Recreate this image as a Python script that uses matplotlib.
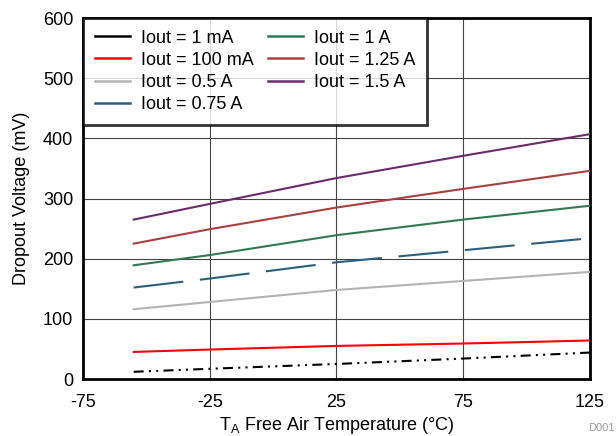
import matplotlib
matplotlib.use('Agg')
import matplotlib.pyplot as plt
from matplotlib.lines import Line2D

plt.rcParams['font.family'] = ['Liberation Sans', 'DejaVu Sans']
plt.rcParams['axes.unicode_minus'] = False

# Data
temps = [-55, -25, 25, 75, 125]
iout_1mA = [12, 17, 25, 34, 44]
iout_100mA = [45, 49, 55, 59, 64]
iout_05A = [116, 128, 148, 163, 178]
iout_075A = [152, 167, 194, 214, 234]
iout_1A = [189, 206, 239, 265, 288]
iout_125A = [225, 249, 285, 316, 346]
iout_15A = [265, 291, 334, 371, 407]

labels = ['Iout = 1 mA', 'Iout = 100 mA', 'Iout = 0.5 A', 'Iout = 0.75 A',
          'Iout = 1 A', 'Iout = 1.25 A', 'Iout = 1.5 A']
series = [iout_1mA, iout_100mA, iout_05A, iout_075A, iout_1A, iout_125A, iout_15A]
colors = ['#000000', '#ff0000', '#b3b3b3', '#2a5f7e', '#2f7a50', '#a8403d', '#6c2a6c']
dashes = [(4.8, 2.5, 1, 2.5, 1, 2.5), None, None, (24, 8), None, None, None]

fig = plt.figure(figsize=(6.16, 4.36), dpi=100)
ax = fig.add_axes([0.1347, 0.1307, 0.8231, 0.828])

for vals, c, d in zip(series, colors, dashes):
    line, = ax.plot(temps, vals, color=c, linewidth=1.5, zorder=3)
    if d is not None:
        line.set_dashes(d)

ax.set_xlim(-75, 125)
ax.set_ylim(0, 600)
ax.set_xticks([-75, -25, 25, 75, 125])
ax.set_yticks([0, 100, 200, 300, 400, 500, 600])
ax.tick_params(length=0, labelsize=13)
ax.tick_params(axis='x', pad=11)
ax.tick_params(axis='y', pad=7)
ax.grid(True, color='#444444', linewidth=0.8)
for s in ax.spines.values():
    s.set_linewidth(2)
    s.set_color('black')

ax.set_xlabel('T$_\\mathregular{A}$ Free Air Temperature (°C)', fontsize=13, labelpad=3)
ax.set_ylabel('Dropout Voltage (mV)', fontsize=13, labelpad=9)

handles = [Line2D([], [], color=c, linewidth=1.8) for c in colors]
leg = ax.legend(handles, labels, loc='upper left', ncol=2, fontsize=13,
                frameon=True, fancybox=False, borderaxespad=0,
                handlelength=1.95, columnspacing=0.8, labelspacing=0.28,
                borderpad=0.65, handletextpad=0.6)
leg.get_frame().set_edgecolor('black')
leg.get_frame().set_linewidth(2)
leg.set_zorder(5)

fig.text(0.955, 0.008, 'D001', fontsize=8, color='#999999', ha='left', va='bottom')

fig.savefig('out.png', dpi=100, facecolor='white')
